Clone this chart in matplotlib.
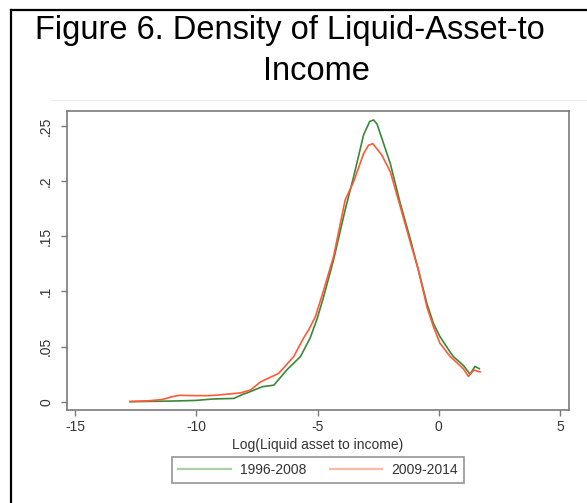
import matplotlib
matplotlib.use("Agg")
from matplotlib import pyplot as plt
from matplotlib.lines import Line2D

plt.rcParams['font.family'] = ['Liberation Sans', 'DejaVu Sans']

# density of log(liquid asset / income)
x_early = [-12.73, -12.0, -11.0, -10.0, -9.3, -8.45, -8.05, -7.9, -7.28, -6.8,
           -6.26, -5.7, -5.3, -5.02, -4.75, -4.34, -3.86, -3.51, -3.10, -2.85,
           -2.69, -2.55, -2.35, -2.0, -1.59, -1.18, -0.84, -0.49, -0.22, 0.05,
           0.47, 0.6, 1.01, 1.29, 1.49, 1.67]
d_early = [0.0, 0.0003, 0.0006, 0.0012, 0.0025, 0.003, 0.007, 0.008, 0.0136, 0.015,
           0.029, 0.041, 0.058, 0.075, 0.095, 0.1285, 0.174, 0.204, 0.242, 0.254,
           0.2555, 0.252, 0.239, 0.216, 0.180, 0.148, 0.1194, 0.089, 0.071, 0.059,
           0.045, 0.041, 0.033, 0.025, 0.032, 0.030]

x_late = [-12.73, -12.0, -11.4, -11.0, -10.7, -10.0, -9.5, -9.14, -8.18, -7.76, -7.35,
          -6.6, -5.98, -5.57, -5.37, -5.09, -4.75, -4.34, -3.86, -3.51, -3.1,
          -2.9, -2.72, -2.35, -2.0, -1.59, -1.18, -0.84, -0.49, -0.22, 0.05,
          0.47, 1.01, 1.22, 1.45, 1.7]
d_late = [0.0003, 0.0008, 0.002, 0.0045, 0.0058, 0.0055, 0.0055, 0.006, 0.008, 0.0106, 0.018,
          0.0257, 0.041, 0.058, 0.065, 0.077, 0.101, 0.1315, 0.183, 0.1995, 0.225,
          0.2325, 0.234, 0.2237, 0.2086, 0.177, 0.145, 0.1194, 0.086, 0.068, 0.053,
          0.041, 0.030, 0.023, 0.0287, 0.027]

xticks = [-15, -10, -5, 0, 5]
yticks = [0, 0.05, 0.1, 0.15, 0.2, 0.25]
ytick_labels = ['0', '.05', '.1', '.15', '.2', '.25']
labels = ['1996-2008', '2009-2014']

green = '#3a873a'
red = '#ff5a36'

fig = plt.figure(figsize=(5.87, 5.03), dpi=100)

# outer frame (only left and top edges are in view) and faint region line
fig.add_artist(Line2D([11 / 587, 11 / 587], [0, 1 - 10 / 503], color='black', lw=1.6,
                      transform=fig.transFigure))
fig.add_artist(Line2D([11 / 587, 1], [1 - 10 / 503, 1 - 10 / 503], color='black', lw=1.6,
                      transform=fig.transFigure))
fig.add_artist(Line2D([50 / 587, 1], [1 - 100 / 503, 1 - 100 / 503], color='#ececec',
                      lw=0.8, transform=fig.transFigure))

# title
fig.text(290 / 587, 1 - 31 / 503, 'Figure 6. Density of Liquid-Asset-to',
         ha='center', va='center', fontsize=23.5)
fig.text(316 / 587, 1 - 71 / 503, 'Income', ha='center', va='center', fontsize=23.5)

ax = fig.add_axes([67 / 587, 1 - 410 / 503, 502 / 587, 299 / 503])
ax.plot(x_early, d_early, color=green, lw=1.2)
ax.plot(x_late, d_late, color=red, lw=1.2)

ax.set_xlim(-15.33, 5.37)
ax.set_ylim(-0.0075, 0.2636)
ax.set_xticks(xticks)
ax.set_xticklabels([str(t) for t in xticks])
ax.set_yticks(yticks)
ax.set_yticklabels(ytick_labels, rotation=90, va='center')
for s in ax.spines.values():
    s.set_color('#7a7a7a')
    s.set_linewidth(1.2)
ax.tick_params(axis='both', color='#7a7a7a', length=4, width=1, labelsize=10,
               labelcolor='#333333')
ax.tick_params(axis='y', pad=6)
ax.tick_params(axis='x', pad=3)
ax.set_xlabel('Log(Liquid asset to income)', fontsize=10, color='#333333', labelpad=3)

handles = [Line2D([], [], color='#a9d1a9', lw=1.6),
           Line2D([], [], color='#ffb9a8', lw=1.6)]
leg = fig.legend(handles, labels, ncol=2, loc='center',
                 bbox_to_anchor=(318 / 587, 1 - 470 / 503), fontsize=10,
                 fancybox=False, edgecolor='#7a7a7a', handlelength=3.8,
                 columnspacing=1.7, borderpad=0.45, handletextpad=0.65)
leg.get_frame().set_linewidth(1.2)
for t in leg.get_texts():
    t.set_color('#333333')

fig.savefig('out.png', dpi=100)
